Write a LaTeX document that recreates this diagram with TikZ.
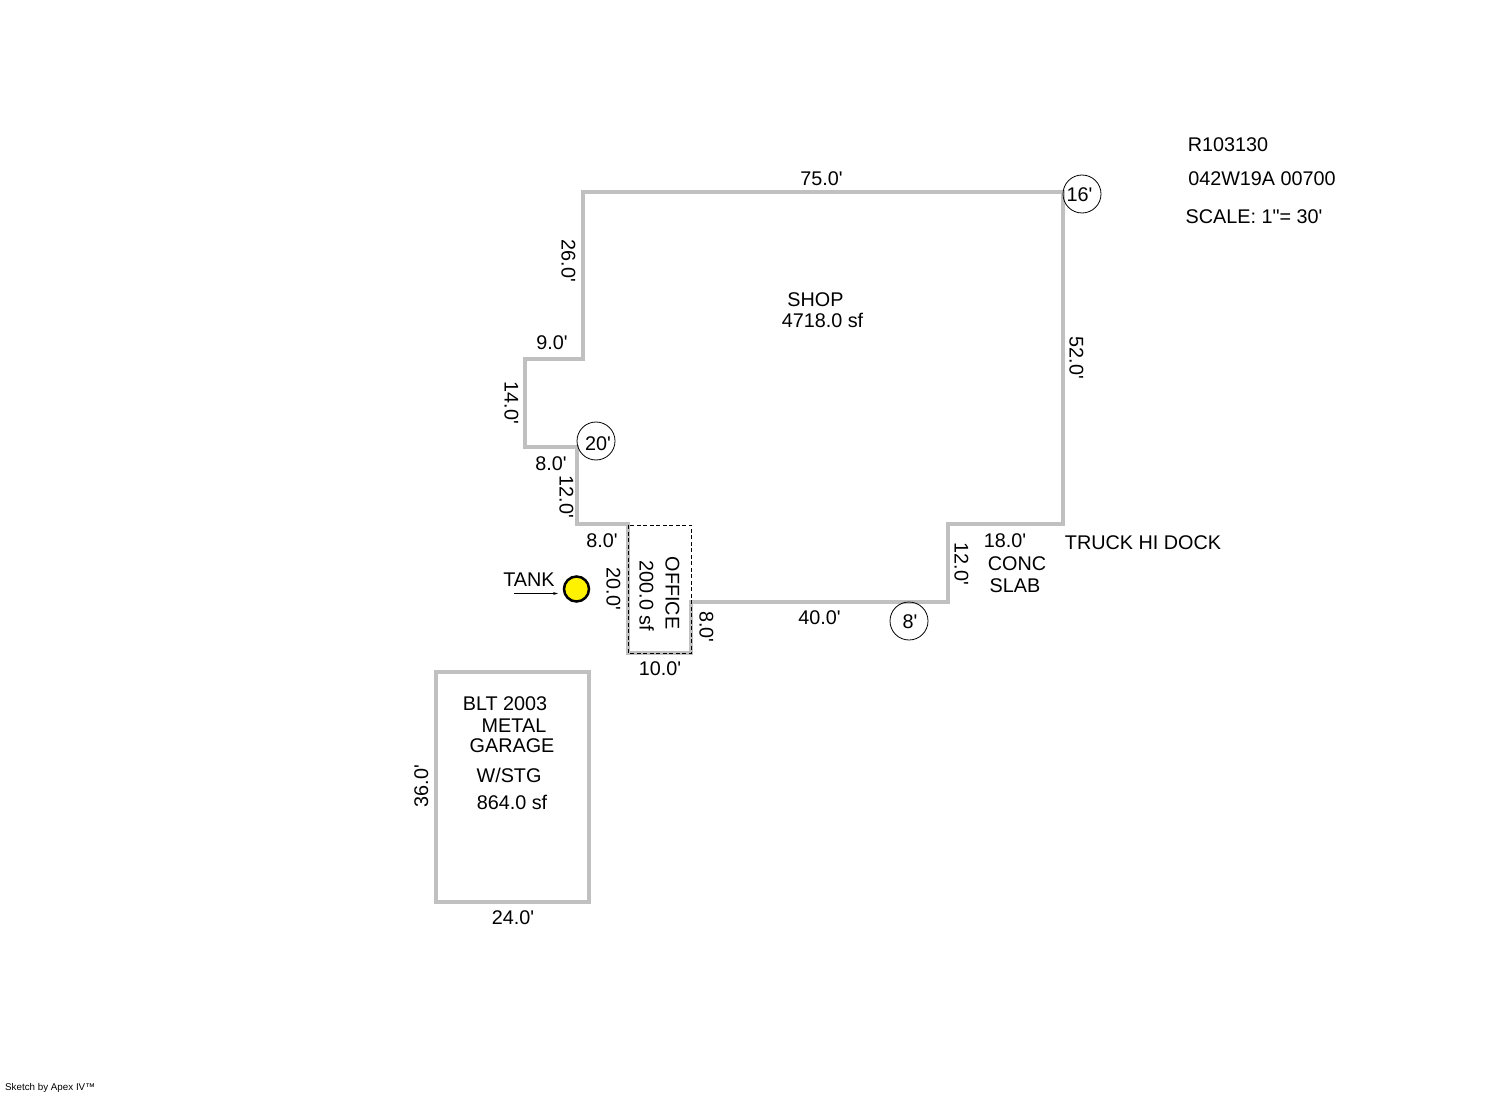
\documentclass[tikz,border=0pt]{standalone}
\usepackage{fontspec}
\setmainfont[Ligatures=TeXOff]{Liberation Sans}
\usetikzlibrary{arrows.meta}
\definecolor{wall}{RGB}{192,192,192}
\tikzset{
  x=1pt,y=-1pt,
  wallline/.style={draw=wall,line width=4.6pt,line join=miter},
  dim/.style={inner sep=0pt,outer sep=0pt,font=\fontsize{19.8}{22}\selectfont,text height=14pt,text depth=0pt,anchor=center},
  vdown/.style={dim,rotate=-90},
  vup/.style={dim,rotate=90},
  ring/.style={draw=black,line width=0.8pt,circle,minimum size=38pt,inner sep=0pt},
}
\begin{document}
\begin{tikzpicture}
\useasboundingbox (0,0) rectangle (1492,1094);
\fill[white] (0,0) rectangle (1492,1094);
% shop outline
\draw[wallline] (583,192) -- (1063,192) -- (1063,524) -- (948,524) -- (948,602) -- (691,602) -- (691,653) -- (628,653) -- (628,524) -- (577,524) -- (577,447) -- (525,447) -- (525,359) -- (583,359) -- cycle;
% office
\draw[black,line width=1pt,dash pattern=on 4pt off 2.5pt] (628,525) rectangle (691.5,653);
% garage
\draw[wallline] (436,672) rectangle (589,902);
% circles
\node[ring] (c16) at (1082,194) {};
\node[ring] (c20) at (596,441) {};
\node[ring] (c8) at (909,621) {};
\node[dim] (t16) at (1079.5,194.5) {16'};
\node[dim] (t20) at (598,443) {20'};
\node[dim] (t8) at (910,621) {8'};
% tank
\node[circle,draw=black,line width=2.5pt,fill=yellow,minimum size=25pt,inner sep=0pt] (tank) at (576.5,589) {};
\coordinate (tankA) at (514,593.5);
\coordinate (tankB) at (558,593.5);
\draw[black,line width=0.7pt,-{Stealth[length=5pt,width=3pt]}] (tankA) -- (tankB);
\node[dim] (ttank) at (529,579) {TANK};
% header
\node[dim] (t1) at (1228,145) {R103130};
\node[dim] (t2) at (1262,179) {042W19A 00700};
\node[dim] (t3) at (1254,217) {SCALE: 1"= 30'};
% horizontal dims
\node[dim] (d75) at (821.5,179) {75.0'};
\node[dim] (d9) at (552,342) {9.0'};
\node[dim] (d8a) at (551,463) {8.0'};
\node[dim] (d8b) at (602,540) {8.0'};
\node[dim] (d10) at (660,668) {10.0'};
\node[dim] (d40) at (819.5,617) {40.0'};
\node[dim] (d18) at (1005,540) {18.0'};
\node[dim] (d24) at (513,917) {24.0'};
% vertical dims
\node[vdown] (v26) at (568.5,261) {26.0'};
\node[vdown] (v14) at (511.5,403) {14.0'};
\node[vdown] (v12a) at (566.5,497) {12.0'};
\node[vdown] (v20) at (613.5,589) {20.0'};
\node[vdown] (v8) at (706.5,627) {8.0'};
\node[vdown] (v52) at (1076.5,358) {52.0'};
\node[vdown] (v12b) at (961.5,564) {12.0'};
\node[vup] (v36) at (421,786) {36.0'};
% labels
\node[dim] (shop) at (815.5,299.5) {SHOP};
\node[dim] (shopa) at (822.5,320.5) {4718.0 sf};
\node[vdown] (off) at (672.5,593) {OFFICE};
\node[vdown] (offa) at (646.5,596) {200.0 sf};
\node[dim] (conc) at (1017,563) {CONC};
\node[dim] (slab) at (1015,585) {SLAB};
\node[dim] (truck) at (1143,542) {TRUCK HI DOCK};
\node[dim] (g1) at (505,703) {BLT 2003};
\node[dim] (g2) at (514,725) {METAL};
\node[dim] (g3) at (512,745) {GARAGE};
\node[dim] (g4) at (509,775) {W/STG};
\node[dim] (g5) at (512,802) {864.0 sf};
\node[inner sep=0pt,anchor=west,font=\fontsize{9.8}{10}\selectfont] (apex) at (5,1088) {Sketch by Apex IV™};
\end{tikzpicture}
\end{document}
